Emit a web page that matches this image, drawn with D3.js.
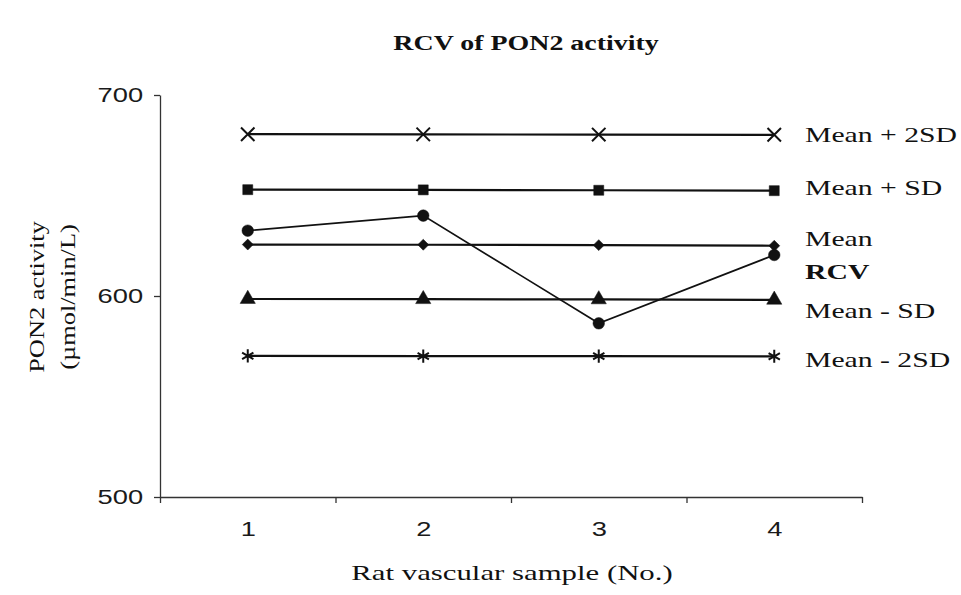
<!DOCTYPE html>
<html>
<head>
<meta charset="utf-8">
<script src="https://cdn.jsdelivr.net/npm/d3@7"></script>
<style>
  body { margin: 0; background: #fff; }
</style>
</head>
<body>
<div id="chart"></div>
<script>
// podaci
const samples = [1, 2, 3, 4];
const meanPlus2SD = [680.5, 680.4, 680.3, 680.2];
const meanPlusSD = [652.9, 652.8, 652.6, 652.4];
const meanVals = [625.6, 625.5, 625.3, 625.0];
const rcvVals = [632.5, 640.0, 586.4, 620.4];
const meanMinusSD = [598.5, 598.4, 598.3, 598.1];
const meanMinus2SD = [570.2, 570.1, 570.1, 570.0];
const yTicks = [500, 600, 700];

const serije = [
  { name: "Mean + 2SD", values: meanPlus2SD, symbol: "x", labelY: 134, bold: false, width: 2.2 },
  { name: "Mean + SD", values: meanPlusSD, symbol: "square", labelY: 187, bold: false, width: 2.2 },
  { name: "Mean", values: meanVals, symbol: "diamond", labelY: 238, bold: false, width: 2.2 },
  { name: "RCV", values: rcvVals, symbol: "circle", labelY: 271, bold: true, width: 1.7 },
  { name: "Mean - SD", values: meanMinusSD, symbol: "triangle", labelY: 310, bold: false, width: 2.2 },
  { name: "Mean - 2SD", values: meanMinus2SD, symbol: "asterisk", labelY: 359, bold: false, width: 2.2 }
];

const sirina = 961, visina = 595;
const lijevo = 160, desno = 862, vrh = 95, dno = 497;
const serif = "Liberation Serif, Times New Roman, serif";
const sans = "Liberation Sans, Arial, sans-serif";

const svg = d3.select("#chart").append("svg")
  .attr("width", sirina)
  .attr("height", visina);

const xScale = d3.scaleLinear().domain([0.5, 4.5]).range([lijevo, desno]);
const yScale = d3.scaleLinear().domain([500, 700]).range([dno, vrh]);

// naslov (tekst u originalu je razvucen vodoravno)
svg.append("text")
  .attr("transform", "translate(526,50) scale(1.33,1)")
  .attr("text-anchor", "middle")
  .style("font-family", serif)
  .style("font-weight", "bold")
  .style("font-size", "21px")
  .attr("fill", "#111")
  .text("RCV of PON2 activity");

// osi
const yAxis = svg.append("g")
  .attr("transform", `translate(${lijevo},0)`)
  .call(d3.axisLeft(yScale).tickValues(yTicks).tickSize(6).tickSizeOuter(0).tickPadding(7));
yAxis.selectAll("text")
  .attr("transform", "scale(1.3,1)")
  .style("font-family", sans)
  .style("font-size", "21px")
  .attr("fill", "#1a1a1a");
yAxis.selectAll("path, line").attr("stroke", "#333").attr("stroke-width", 1.3);

const xAxis = svg.append("g")
  .attr("transform", `translate(0,${dno})`)
  .call(d3.axisBottom(xScale).tickValues([0.5, 1.5, 2.5, 3.5, 4.5]).tickFormat("").tickSize(6).tickSizeOuter(0));
xAxis.selectAll("path, line").attr("stroke", "#333").attr("stroke-width", 1.3);

const xLabels = svg.append("g")
  .attr("transform", `translate(0,${dno})`)
  .call(d3.axisBottom(xScale).tickValues(samples).tickFormat(d3.format("d")).tickSize(0).tickPadding(24));
xLabels.select(".domain").remove();
xLabels.selectAll("text")
  .attr("transform", "scale(1.3,1)")
  .style("font-family", sans)
  .style("font-size", "21px")
  .attr("fill", "#1a1a1a");

// naslovi osi
svg.append("text")
  .attr("transform", "translate(512,580) scale(1.4,1)")
  .attr("text-anchor", "middle")
  .style("font-family", serif)
  .style("font-size", "22px")
  .attr("fill", "#111")
  .text("Rat vascular sample (No.)");

const yLab = svg.append("text")
  .attr("transform", "translate(0,297) rotate(-90) scale(1.2,1)")
  .attr("text-anchor", "middle")
  .style("font-family", serif)
  .style("font-size", "22px")
  .attr("fill", "#111");
yLab.append("tspan").attr("x", 0).attr("y", 44).text("PON2 activity");
yLab.append("tspan").attr("x", 0).attr("y", 75).text("(\u00b5mol/min/L)");

// linije i markeri
const linija = d3.line()
  .x((d, i) => xScale(samples[i]))
  .y(d => yScale(d));

const simboli = {
  x: d3.symbolTimes,
  square: d3.symbolSquare,
  diamond: d3.symbolSquare,
  circle: d3.symbolCircle,
  triangle: d3.symbolTriangle,
  asterisk: d3.symbolAsterisk
};
const velicine = { x: 120, square: 100, diamond: 60, circle: 105, triangle: 100, asterisk: 120 };

serije.forEach(s => {
  svg.append("path")
    .datum(s.values)
    .attr("d", linija)
    .attr("fill", "none")
    .attr("stroke", "#111")
    .attr("stroke-width", s.width);

  const crta = s.symbol === "x" || s.symbol === "asterisk";
  const rot = s.symbol === "diamond" ? " rotate(45)" : "";
  svg.selectAll(null)
    .data(s.values)
    .join("path")
    .attr("transform", (d, i) => `translate(${xScale(samples[i])},${yScale(d)})${rot}`)
    .attr("d", d3.symbol(simboli[s.symbol], velicine[s.symbol]))
    .attr("fill", crta ? "none" : "#111")
    .attr("stroke", "#111")
    .attr("stroke-width", crta ? 2 : 0.5);

  svg.append("text")
    .attr("transform", `translate(805,${s.labelY}) scale(1.35,1)`)
    .attr("dy", "0.35em")
    .style("font-family", serif)
    .style("font-size", "22px")
    .style("font-weight", s.bold ? "bold" : "normal")
    .attr("fill", "#111")
    .text(s.name);
});
</script>
</body>
</html>
